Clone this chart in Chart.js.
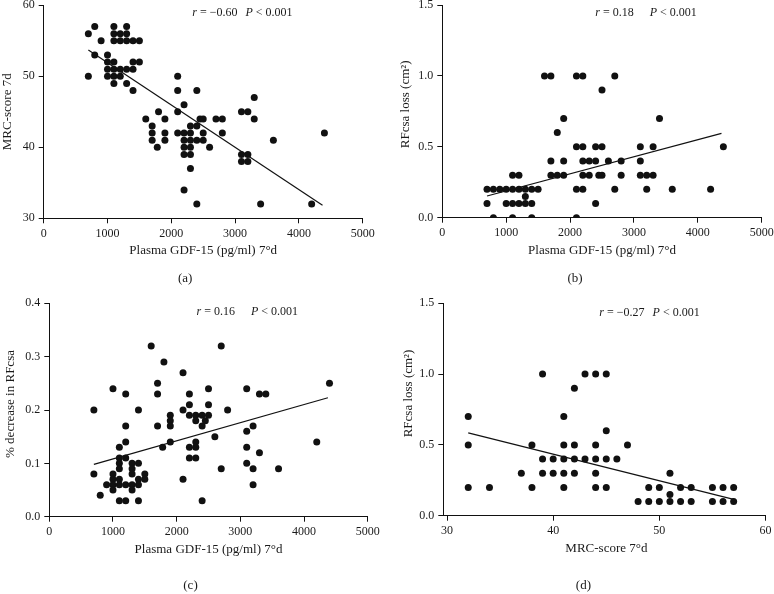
<!DOCTYPE html>
<html>
<head>
<meta charset="utf-8">
<script src="https://cdn.jsdelivr.net/npm/chart.js@4.4.1/dist/chart.umd.min.js"></script>
<style>
  html, body { margin: 0; padding: 0; background: #ffffff; }
  #wrap { position: relative; width: 774px; height: 594px; background: #ffffff; }
  #wrap canvas { position: absolute; left: 0; top: 0; }
</style>
</head>
<body>
<div id="wrap"></div>
<script>
// ---------- DATA ----------
// Panel (a): Plasma GDF-15 vs MRC-score 7d
const aGdf = [700,800,900,800,700, 1100,1300, 1100,1200,1300, 1100,1200,1300,1400,1500, 1000,
  1000,1100,1400,1500, 1000,1100,1200,1300,1400, 1000,1100,1200, 1100,1300, 1400,
  1600,1800,1900,1700,1700,1700,1780,1900,1900,
  2100,2100,2400,2200,2100,2100, 2200,2200,2200,2200, 2300,2300,2300,2300,2300,2300,
  2400,2450,2500,2500,2400,2500, 2200,2400,2600,
  2700,2800,2800,3100,3200,3300,3300,3600,4400, 3100,3200,3100,3200,3400,4200];
const aMrc = [56,57,55,53,50, 57,57, 56,56,56, 55,55,55,55,55, 53,
  52,52,52,52, 51,51,51,51,51, 50,50,50, 49,49, 48,
  44,45,44,43,42,41,40,42,41,
  50,48,48,46,45,42, 42,41,40,39, 43,42,41,40,39,37,
  43,44,44,42,41,41, 34,32,40,
  44,44,42,45,45,47,44,41,42, 39,39,38,38,32,32];
const aFitX = [700, 4370];
const aFitY = [53.7, 31.85];
const aXTicks = [0,1000,2000,3000,4000,5000];
const aYTicks = [30,40,50,60];

// Panel (b): Plasma GDF-15 vs RFcsa loss
const bGdf = [800,1100,1400,2100,
  700,1000,1100,1200,1300,1400,2400,
  1300,
  700,800,900,1000,1100,1200,1300,1400,1500,2100,2200,2700,3200,3600,4200,
  1100,1200,1700,1800,1900,2200,2300,2450,2500,2800,3100,3200,3300,
  1700,1900,2200,2300,2400,2600,2800,3100,
  2100,2200,2400,2500,3100,3300,4400,
  1800, 1900,3400, 2500, 1600,1700,2100,2200,2700];
const bLoss = [0,0,0,0,
  0.1,0.1,0.1,0.1,0.1,0.1,0.1,
  0.15,
  0.2,0.2,0.2,0.2,0.2,0.2,0.2,0.2,0.2,0.2,0.2,0.2,0.2,0.2,0.2,
  0.3,0.3,0.3,0.3,0.3,0.3,0.3,0.3,0.3,0.3,0.3,0.3,0.3,
  0.4,0.4,0.4,0.4,0.4,0.4,0.4,0.4,
  0.5,0.5,0.5,0.5,0.5,0.5,0.5,
  0.6, 0.7,0.7, 0.9, 1.0,1.0,1.0,1.0,1.0];
const bFitX = [700, 4370];
const bFitY = [0.153, 0.595];
const bXTicks = [0,1000,2000,3000,4000,5000];
const bYTicks = [0,0.5,1.0,1.5];

// Panel (c): Plasma GDF-15 vs % decrease in RFcsa
const cGdf = [700,700,800,
  1000,1200,1400,1200,1200,1100,1100,1200,1100,1300,1400,1100,1300,1000,1300,1500,
  1000,1100,1400,1500,900,1000,1100,1200,1300,1400,1000,1300,1100,1200,1400,
  1600,1800,1700,1700,1700,1780,1900,1900,1900,1900,
  2100,2100,2100,2200,2200,2200,2300,2300,2400,2400,2450,2500,2500,2500,
  2200,2300,2300,2200,2300,2400,2600,
  2700,2800,2700,3100,3300,3400,3200,3100,3100,3300,3100,3200,3600,3200,4200,4400];
const cPct = [0.20,0.08,0.04,
  0.24,0.23,0.20,0.17,0.14,0.13,0.11,0.11,0.10,0.10,0.10,0.09,0.09,0.08,0.08,0.08,
  0.07,0.07,0.07,0.07,0.06,0.06,0.06,0.06,0.06,0.06,0.05,0.05,0.03,0.03,0.03,
  0.32,0.29,0.25,0.23,0.17,0.13,0.19,0.18,0.17,0.14,
  0.27,0.20,0.07,0.23,0.21,0.19,0.19,0.18,0.19,0.17,0.18,0.19,0.24,0.21,
  0.13,0.14,0.13,0.11,0.11,0.03,0.15,
  0.32,0.20,0.09,0.24,0.23,0.23,0.17,0.16,0.13,0.12,0.10,0.09,0.09,0.06,0.14,0.25];
const cFitX = [700, 4375];
const cFitY = [0.098, 0.223];
const cXTicks = [0,1000,2000,3000,4000,5000];
const cYTicks = [0,0.1,0.2,0.3,0.4];

// Panel (d): MRC-score 7d vs RFcsa loss
const dMrc = [32,32,32,34,37,38,38,39,39,40,39,40,
  41,41,41,41,41,42,42,42,42,43,43,
  44,44,44,44,44,45,45,45,45,46,47,
  48,49,49,50,50,51,51,51,52,52,53,53,55,55,56,56,57,57];
const dLoss = [0.7,0.5,0.2,0.2,0.3,0.5,0.2,1.0,0.4,0.4,0.3,0.3,
  0.7,0.5,0.4,0.3,0.2,0.9,0.5,0.4,0.3,1.0,0.4,
  1.0,0.5,0.4,0.3,0.2,1.0,0.6,0.4,0.2,0.4,0.5,
  0.1,0.2,0.1,0.2,0.1,0.3,0.15,0.1,0.2,0.1,0.2,0.1,0.2,0.1,0.2,0.1,0.2,0.1];
const dFitX = [32, 57];
const dFitY = [0.585, 0.115];
const dXTicks = [30,40,50,60];
const dYTicks = [0,0.5,1.0,1.5];

// ---------- LAYOUT / STYLE ----------
const W = 774, H = 594, YW = 40, XH = 30;
const SERIF = '"Liberation Serif", "DejaVu Serif", "Times New Roman", serif';
const INK = '#1a1a1a';

function drawRich(ctx, segs, cx, cy, size) {
  let total = 0;
  const parts = segs.map(s => {
    if (s.gap) { total += s.gap; return { gap: s.gap }; }
    ctx.font = (s.i ? 'italic ' : '') + size + 'px ' + SERIF;
    const w = ctx.measureText(s.t).width;
    total += w;
    return { t: s.t, i: s.i, w };
  });
  let x = cx - total / 2;
  ctx.textBaseline = 'middle';
  ctx.textAlign = 'left';
  parts.forEach(p => {
    if (p.gap) { x += p.gap; return; }
    ctx.font = (p.i ? 'italic ' : '') + size + 'px ' + SERIF;
    ctx.fillText(p.t, x, cy);
    x += p.w;
  });
}

function makePanel(p) {
  const canvas = document.createElement('canvas');
  canvas.width = W; canvas.height = H;
  canvas.style.width = W + 'px'; canvas.style.height = H + 'px';
  document.getElementById('wrap').appendChild(canvas);

  const textPlugin = {
    id: 'texts_' + p.id,
    afterDraw(chart) {
      const ctx = chart.ctx, a = chart.chartArea;
      ctx.save();
      ctx.fillStyle = INK;
      // x-axis title
      ctx.font = '13px ' + SERIF;
      ctx.textAlign = 'center'; ctx.textBaseline = 'middle';
      ctx.fillText(p.xTitle, (a.left + a.right) / 2 + p.xTitleDx, a.bottom + 32.5);
      // y-axis title
      ctx.save();
      ctx.translate(a.left - p.yTitleOff, (a.top + a.bottom) / 2 + p.yTitleDy);
      ctx.rotate(-Math.PI / 2);
      ctx.fillText(p.yTitle, 0, 0);
      ctx.restore();
      // panel label
      ctx.font = '13px ' + SERIF;
      ctx.fillText(p.label, (a.left + a.right) / 2 + p.labelDx, a.bottom + p.labelDy);
      // statistics annotation
      drawRich(ctx, p.annot, a.left + (a.right - a.left) * p.annotFx, a.top + p.annotDy, 12);
      ctx.restore();
    }
  };

  const tickFont = { family: SERIF, size: 12 };
  new Chart(canvas.getContext('2d'), {
    type: 'scatter',
    data: {
      datasets: [
        {
          data: p.xs.map((x, i) => ({ x: x, y: p.ys[i] })),
          pointRadius: 3.5, pointHoverRadius: 3.5,
          backgroundColor: '#111111', borderWidth: 0, pointStyle: 'circle'
        },
        {
          data: p.fx.map((x, i) => ({ x: x, y: p.fy[i] })),
          showLine: true, pointRadius: 0, borderColor: '#111111', borderWidth: 1.2, fill: false
        }
      ]
    },
    options: {
      responsive: false, animation: false, events: [],
      layout: { padding: { left: p.area.left - YW, top: p.area.top, right: W - p.area.right, bottom: H - p.area.bottom - XH } },
      plugins: { legend: { display: false }, tooltip: { enabled: false }, title: { display: false } },
      scales: {
        x: {
          type: 'linear', min: p.xMin, max: p.xMax,
          afterBuildTicks: s => { s.ticks = p.xTicks.map(v => ({ value: v })); },
          afterFit: s => { s.height = XH; s.paddingLeft = 0; s.paddingRight = 0; },
          ticks: { font: tickFont, color: INK, padding: 3, maxRotation: 0, autoSkip: false, callback: v => p.xFmt(v) },
          grid: { display: true, drawOnChartArea: false, drawTicks: true, tickLength: 5, color: '#111111', lineWidth: 1 },
          border: { display: true, color: '#111111', width: 1 }
        },
        y: {
          type: 'linear', min: p.yMin, max: p.yMax,
          afterBuildTicks: s => { s.ticks = p.yTicks.map(v => ({ value: v })); },
          afterFit: s => { s.width = YW; s.paddingTop = 0; s.paddingBottom = 0; },
          ticks: { font: tickFont, color: INK, padding: 4, autoSkip: false, callback: v => p.yFmt(v) },
          grid: { display: true, drawOnChartArea: false, drawTicks: true, tickLength: 5, color: '#111111', lineWidth: 1 },
          border: { display: true, color: '#111111', width: 1 }
        }
      }
    },
    plugins: [textPlugin]
  });
}

const intFmt = v => String(Math.round(v));
const dec1 = v => Number(v).toFixed(1);

makePanel({
  id: 'a', xs: aGdf, ys: aMrc, fx: aFitX, fy: aFitY,
  xMin: 0, xMax: 5000, yMin: 30, yMax: 60, xTicks: aXTicks, yTicks: aYTicks,
  xFmt: intFmt, yFmt: intFmt,
  area: { left: 43.7, right: 362.7, top: 5.3, bottom: 218.3 },
  xTitle: 'Plasma GDF-15 (pg/ml) 7\u00b0d', xTitleDx: 0,
  yTitle: 'MRC-score 7d', yTitleOff: 36, yTitleDy: 0,
  label: '(a)', labelDx: -18, labelDy: 60,
  annot: [{ t: 'r', i: true }, { t: ' = \u22120.60', i: false }, { gap: 8 }, { t: 'P', i: true }, { t: ' < 0.001', i: false }],
  annotFx: 0.623, annotDy: 7.5
});

makePanel({
  id: 'b', xs: bGdf, ys: bLoss, fx: bFitX, fy: bFitY,
  xMin: 0, xMax: 5000, yMin: 0, yMax: 1.5, xTicks: bXTicks, yTicks: bYTicks,
  xFmt: intFmt, yFmt: dec1,
  area: { left: 442.3, right: 761.7, top: 5, bottom: 217.7 },
  xTitle: 'Plasma GDF-15 (pg/ml) 7\u00b0d', xTitleDx: 0,
  yTitle: 'RFcsa loss (cm\u00b2)', yTitleOff: 37, yTitleDy: -7,
  label: '(b)', labelDx: -27, labelDy: 61,
  annot: [{ t: 'r', i: true }, { t: ' = 0.18', i: false }, { gap: 16 }, { t: 'P', i: true }, { t: ' < 0.001', i: false }],
  annotFx: 0.638, annotDy: 8
});

makePanel({
  id: 'c', xs: cGdf, ys: cPct, fx: cFitX, fy: cFitY,
  xMin: 0, xMax: 5000, yMin: 0, yMax: 0.4, xTicks: cXTicks, yTicks: cYTicks,
  xFmt: intFmt, yFmt: dec1,
  area: { left: 49.3, right: 367.7, top: 303.3, bottom: 516.7 },
  xTitle: 'Plasma GDF-15 (pg/ml) 7\u00b0d', xTitleDx: 0,
  yTitle: '% decrease in RFcsa', yTitleOff: 39, yTitleDy: -6,
  label: '(c)', labelDx: -18, labelDy: 69,
  annot: [{ t: 'r', i: true }, { t: ' = 0.16', i: false }, { gap: 16 }, { t: 'P', i: true }, { t: ' < 0.001', i: false }],
  annotFx: 0.622, annotDy: 9
});

makePanel({
  id: 'd', xs: dMrc, ys: dLoss, fx: dFitX, fy: dFitY,
  xMin: 29.65, xMax: 60, yMin: 0, yMax: 1.5, xTicks: dXTicks, yTicks: dYTicks,
  xFmt: intFmt, yFmt: dec1,
  area: { left: 443.3, right: 765.5, top: 303.3, bottom: 515.7 },
  xTitle: 'MRC-score 7\u00b0d', xTitleDx: 2,
  yTitle: 'RFcsa loss (cm\u00b2)', yTitleOff: 35, yTitleDy: -16,
  label: '(d)', labelDx: -21, labelDy: 70,
  annot: [{ t: 'r', i: true }, { t: ' = \u22120.27', i: false }, { gap: 8 }, { t: 'P', i: true }, { t: ' < 0.001', i: false }],
  annotFx: 0.64, annotDy: 10
});
</script>
</body>
</html>
